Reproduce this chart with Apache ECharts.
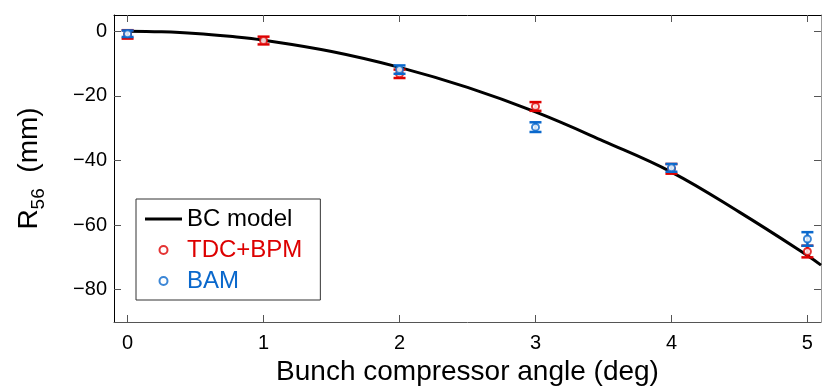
<!DOCTYPE html>
<html>
<head>
<meta charset="utf-8">
<script src="https://cdn.jsdelivr.net/npm/echarts@6/dist/echarts.min.js"></script>
<style>
  html, body { margin: 0; padding: 0; background: #fff; }
  #main { width: 830px; height: 392px; }
</style>
</head>
<body>
<div id="main"></div>
<script>
// 刻度
var xTicks = [0, 1, 2, 3, 4, 5];
var yTicks = [-80, -60, -40, -20, 0];

// BC model 曲线
var modelAngle = [0, 0.25, 0.5, 0.75, 1, 1.5, 2, 2.5, 3, 3.5, 4, 4.5, 5, 5.1];
var modelR56 = [0, -0.2, -0.7, -1.6, -2.8, -6.3, -11.2, -17.4, -25.0, -34.0, -43.6, -56.0, -69.4, -72.4];

// TDC+BPM 测量值 与 误差
var tdcAngle = [0, 1, 2, 3, 4, 5];
var tdcR56 = [-1.0, -2.9, -13.2, -23.3, -42.6, -68.2];
var tdcErr = [1.3, 1.2, 1.3, 1.35, 1.5, 1.8];

// BAM 测量值 与 误差
var bamAngle = [0, 2, 3, 4, 5];
var bamR56 = [-0.8, -11.9, -29.7, -42.3, -64.3];
var bamErr = [1.0, 1.3, 1.5, 1.2, 2.1];

var red = '#dd0000';
var blue = '#0a68cc';
var font = 'Liberation Sans, Arial, sans-serif';

function pts(xs, ys) {
  return xs.map(function (x, i) { return [x, ys[i]]; });
}
function errs(xs, ys, es) {
  return xs.map(function (x, i) { return [x, ys[i], ys[i] - es[i], ys[i] + es[i]]; });
}

// 误差棒
function errorBar(color) {
  return function (params, api) {
    var x = api.value(0);
    var lo = api.coord([x, api.value(2)]);
    var hi = api.coord([x, api.value(3)]);
    var w = 6;
    var style = { stroke: color, lineWidth: 2.5 };
    return {
      type: 'group',
      children: [
        { type: 'line', shape: { x1: lo[0], y1: lo[1], x2: hi[0], y2: hi[1] }, style: style },
        { type: 'line', shape: { x1: lo[0] - w, y1: lo[1], x2: lo[0] + w, y2: lo[1] }, style: style },
        { type: 'line', shape: { x1: hi[0] - w, y1: hi[1], x2: hi[0] + w, y2: hi[1] }, style: style }
      ]
    };
  };
}

var chart = echarts.init(document.getElementById('main'));

var tickStyle = { color: '#555', width: 1 };

var option = {
  animation: false,
  textStyle: { fontFamily: font },
  grid: { left: 114, right: 9, top: 15, bottom: 70, containLabel: false },
  legend: {
    orient: 'vertical',
    left: 136,
    top: 199,
    padding: [8, 18, 7, 9],
    itemGap: 7,
    itemWidth: 37,
    itemHeight: 8,
    borderColor: '#333',
    borderWidth: 1,
    backgroundColor: '#fff',
    textStyle: { fontSize: 24, color: '#000' },
    data: [
      { name: 'BC model', icon: 'path://M0,0h37v3H0z', itemStyle: { color: '#000' } },
      { name: 'TDC+BPM', textStyle: { color: red } },
      { name: 'BAM', textStyle: { color: blue } }
    ]
  },
  xAxis: [
    {
      type: 'value',
      min: -0.1,
      max: 5.1,
      name: 'Bunch compressor angle (deg)',
      nameLocation: 'middle',
      nameGap: 32,
      nameTextStyle: { fontSize: 28, color: '#000' },
      axisLine: { onZero: false, lineStyle: { color: '#555', width: 1 } },
      axisTick: { inside: true, length: 7, lineStyle: tickStyle, customValues: xTicks },
      axisLabel: { fontSize: 20, color: '#000', margin: 11, customValues: xTicks },
      splitLine: { show: false }
    },
    {
      type: 'value',
      position: 'top',
      min: -0.1,
      max: 5.1,
      axisLine: { show: true, onZero: false, lineStyle: { color: '#000', width: 1 } },
      axisTick: { inside: true, length: 7, lineStyle: tickStyle, customValues: xTicks },
      axisLabel: { show: false },
      splitLine: { show: false }
    }
  ],
  yAxis: [
    {
      type: 'value',
      min: -90,
      max: 5,
      name: '{a|R}{b|56}{a|  (mm)}',
      nameLocation: 'middle',
      nameGap: 66,
      nameTextStyle: {
        rich: {
          a: { fontSize: 28, color: '#000', fontFamily: font },
          b: { fontSize: 19, color: '#000', padding: [18, 0, 0, 0], fontFamily: font }
        }
      },
      axisLine: { show: true, onZero: false, lineStyle: { color: '#000', width: 1 } },
      axisTick: { show: true, inside: true, length: 7, lineStyle: tickStyle, customValues: yTicks },
      axisLabel: { fontSize: 20, color: '#000', margin: 7, customValues: yTicks,
        formatter: function (v) { return v < 0 ? '\u2212' + (-v) : String(v); } },
      splitLine: { show: false }
    },
    {
      type: 'value',
      position: 'right',
      min: -90,
      max: 5,
      axisLine: { show: true, onZero: false, lineStyle: { color: '#999', width: 1 } },
      axisTick: { show: true, inside: true, length: 7, lineStyle: tickStyle, customValues: yTicks },
      axisLabel: { show: false },
      splitLine: { show: false }
    }
  ],
  series: [
    {
      name: 'BC model',
      type: 'line',
      smooth: 0.4,
      symbol: 'none',
      color: '#000',
      lineStyle: { color: '#000', width: 3 },
      data: pts(modelAngle, modelR56),
      z: 2
    },
    {
      name: 'TDC+BPM err',
      type: 'custom',
      renderItem: errorBar(red),
      data: errs(tdcAngle, tdcR56, tdcErr),
      z: 3
    },
    {
      name: 'TDC+BPM',
      type: 'scatter',
      symbol: 'emptyCircle',
      symbolSize: 7,
      color: red,
      itemStyle: { color: red, borderColor: red, borderWidth: 2.5 },
      data: pts(tdcAngle, tdcR56),
      z: 4
    },
    {
      name: 'BAM err',
      type: 'custom',
      renderItem: errorBar(blue),
      data: errs(bamAngle, bamR56, bamErr),
      z: 5
    },
    {
      name: 'BAM',
      type: 'scatter',
      symbol: 'emptyCircle',
      symbolSize: 7,
      color: blue,
      itemStyle: { color: blue, borderColor: blue, borderWidth: 2.5 },
      data: pts(bamAngle, bamR56),
      z: 6
    }
  ]
};

chart.setOption(option);
</script>
</body>
</html>
